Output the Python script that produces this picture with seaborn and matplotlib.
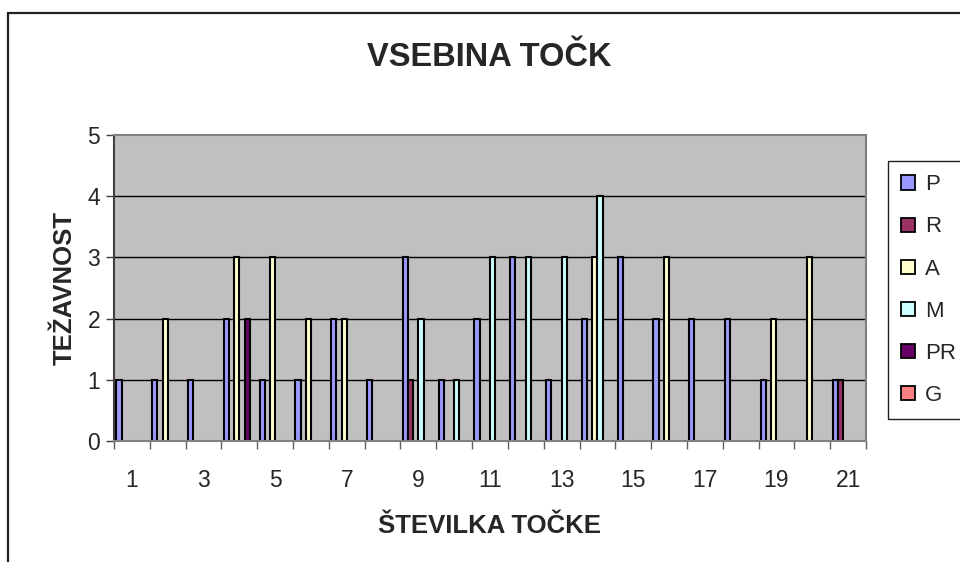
import numpy as np
import pandas as pd
import matplotlib
matplotlib.use("Agg")
import matplotlib.pyplot as plt
from matplotlib.patches import Patch, Rectangle
import seaborn as sns

# Točke 1..21 and the difficulty per content category
tocke = [str(i) for i in range(1, 22)]
serije = ["P", "R", "A", "M", "PR", "G"]
P = [1, 1, 1, 2, 1, 1, 2, 1, 3, 1, 2, 3, 1, 2, 3, 2, 2, 2, 1, 0, 1]
R = [0, 0, 0, 0, 0, 0, 0, 0, 1, 0, 0, 0, 0, 0, 0, 0, 0, 0, 0, 0, 1]
A = [0, 2, 0, 3, 3, 2, 2, 0, 0, 0, 0, 0, 0, 3, 0, 3, 0, 0, 2, 3, 0]
M = [0, 0, 0, 0, 0, 0, 0, 0, 2, 1, 3, 3, 3, 4, 0, 0, 0, 0, 0, 0, 0]
PR = [0, 0, 0, 2, 0, 0, 0, 0, 0, 0, 0, 0, 0, 0, 0, 0, 0, 0, 0, 0, 0]
G = [0, 0, 0, 0, 0, 0, 0, 0, 0, 0, 0, 0, 0, 0, 0, 0, 0, 0, 0, 0, 0]
x_oznake = [str(i) for i in range(1, 22, 2)]

barve = {"P": "#9999FF", "R": "#993366", "A": "#FFFFCC",
         "M": "#CCFFFF", "PR": "#660066", "G": "#FF8080"}

vrednosti = {"P": P, "R": R, "A": A, "M": M, "PR": PR, "G": G}
vrstice = []
for s in serije:
    for t, v in zip(tocke, vrednosti[s]):
        if v:
            vrstice.append({"tocka": t, "serija": s, "tezavnost": v})
df = pd.DataFrame(vrstice)

sns.set_theme(style="white")
plt.rcParams["font.family"] = ["Liberation Sans", "DejaVu Sans"]

fig = plt.figure(figsize=(9.6, 5.62), dpi=100)
ax = fig.add_axes([114 / 960, 1 - 441 / 562, 752 / 960, 306 / 562])

ax.set_facecolor("#C0C0C0")
ax.set_axisbelow(True)
for yv in [1, 2, 3, 4]:
    ax.axhline(yv, color="black", lw=1.0, zorder=0.5)

sns.barplot(data=df, x="tocka", y="tezavnost", hue="serija",
            order=tocke, hue_order=serije, palette=barve,
            width=0.87, dodge=True, errorbar=None, legend=False,
            edgecolor="black", linewidth=1.5, saturation=1, ax=ax, zorder=2)

ax.set_xlim(-0.5, 20.5)
ax.set_ylim(0, 5)
ax.set_yticks([0, 1, 2, 3, 4, 5])
ax.set_yticklabels(["0", "1", "2", "3", "4", "5"], fontsize=16.5)
ax.set_xticks(np.arange(0, 21, 2))
ax.set_xticklabels(x_oznake, fontsize=16.5)
ax.set_xticks(np.arange(-0.5, 21, 1), minor=True)
ax.tick_params(axis="x", which="major", length=0, pad=20)
ax.tick_params(axis="x", which="minor", length=6, width=1, color="#606060",
               direction="out", bottom=True)
ax.tick_params(axis="y", length=6, width=1, color="#404040", direction="out",
               left=True, pad=4)

for side in ["top", "right"]:
    ax.spines[side].set_color("#808080")
    ax.spines[side].set_linewidth(1.5)
ax.spines["left"].set_color("#404040")
ax.spines["left"].set_linewidth(1.5)
ax.spines["bottom"].set_color("#808080")
ax.spines["bottom"].set_linewidth(1.5)

ax.set_xlabel("ŠTEVILKA TOČKE", fontsize=18.5, fontweight="bold", labelpad=16)
ax.set_ylabel("TEŽAVNOST", fontsize=18.5, fontweight="bold", labelpad=8)

fig.text(489 / 960, 1 - 57 / 562, "VSEBINA TOČK", ha="center", va="center",
         fontsize=23.5, fontweight="bold")

handles = [Patch(facecolor=barve[s], edgecolor="black", linewidth=1.3, label=s)
           for s in serije]
leg = fig.legend(handles=handles, loc="upper left",
                 bbox_to_anchor=(888 / 960, 1 - 161 / 562),
                 fontsize=16, frameon=True, fancybox=False, framealpha=1,
                 edgecolor="#202020", handlelength=0.62, handleheight=0.6,
                 handletextpad=0.45, labelspacing=0.95, borderpad=0.6,
                 borderaxespad=0)
leg.get_frame().set_linewidth(1.0)

fig.patches.append(Rectangle((8 / 960, -0.2), 2, 1.2 - 13 / 562,
                             transform=fig.transFigure, fill=False,
                             edgecolor="#202020", linewidth=1.6))

fig.savefig("out.png", dpi=100)
